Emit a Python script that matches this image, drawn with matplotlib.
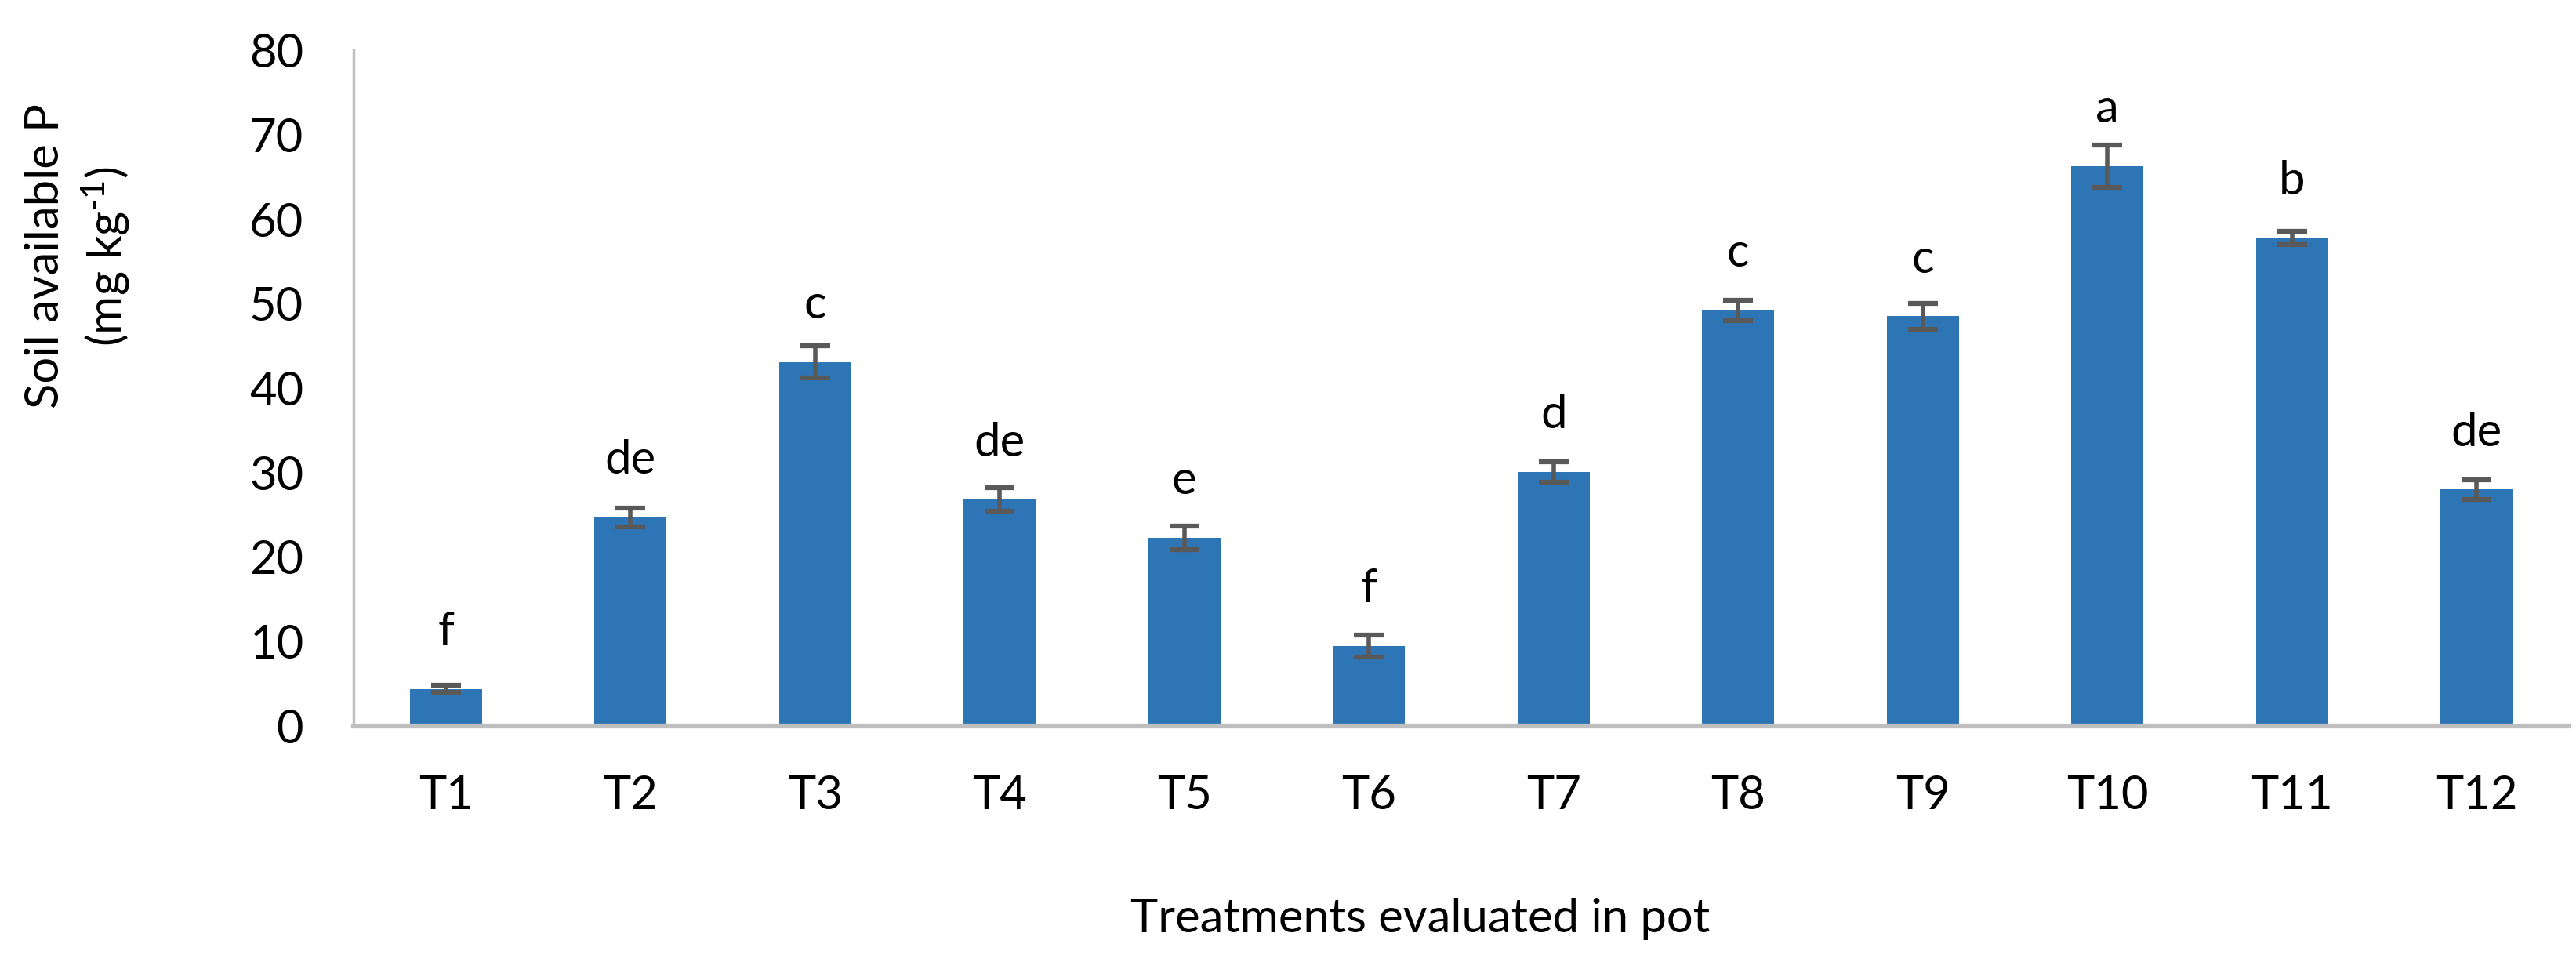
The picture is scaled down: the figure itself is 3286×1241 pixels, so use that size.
import matplotlib
matplotlib.use("Agg")
import matplotlib.pyplot as plt
import numpy as np

categories = ["T1", "T2", "T3", "T4", "T5", "T6", "T7", "T8", "T9", "T10", "T11", "T12"]
values = [4.4, 24.7, 43.1, 26.8, 22.3, 9.5, 30.1, 49.2, 48.5, 66.3, 57.8, 28.0]
errors = [0.4, 1.1, 1.9, 1.4, 1.4, 1.3, 1.2, 1.2, 1.5, 2.5, 0.8, 1.15]
letters = ["f", "de", "c", "de", "e", "f", "d", "c", "c", "a", "b", "de"]
yticks = [0, 10, 20, 30, 40, 50, 60, 70, 80]

plt.rcParams['font.family'] = ['Lato', 'DejaVu Sans']
plt.rcParams['mathtext.fontset'] = 'custom'
plt.rcParams['mathtext.rm'] = 'Lato'
plt.rcParams['mathtext.default'] = 'rm'

W, H, DPI = 3287, 1241, 100
fig = plt.figure(figsize=(W / DPI, H / DPI), dpi=DPI)
ax = fig.add_axes([451 / W, 1 - 926 / H, (3277 - 451) / W, (926 - 64) / H])

x = np.arange(len(categories))
ax.bar(x, values, width=0.39, color="#2E75B6", zorder=2)
ax.errorbar(x, values, yerr=errors, fmt="none", ecolor="#595959",
            elinewidth=4, capsize=13.5, capthick=4.5, zorder=3)

fs = 43
for xi, v, lab in zip(x, values, letters):
    ax.annotate(lab, (xi, v), xytext=(0, 40), textcoords="offset points",
                ha="center", va="baseline", fontsize=fs, color="black")

ax.set_xlim(-0.5, len(categories) - 0.5)
ax.set_ylim(0, 80)
ax.set_yticks(yticks)
ax.set_yticklabels([str(t) for t in yticks])
ax.set_xticks(x)
ax.set_xticklabels(categories)
ax.tick_params(axis="both", length=0, labelsize=fs)
ax.tick_params(axis="y", pad=46)
ax.tick_params(axis="x", pad=45)

for s in ["top", "right"]:
    ax.spines[s].set_visible(False)
ax.spines["left"].set_color("#BFBFBF")
ax.spines["left"].set_linewidth(2.5)
ax.spines["bottom"].set_color("#BFBFBF")
ax.spines["bottom"].set_linewidth(4.5)

fig.text(1812 / W, 1 - 1172 / H, "Treatments evaluated in pot", ha="center",
         va="center", fontsize=fs)
fig.text(100 / W, 1 - 327 / H, "Soil available P\n(mg kg$^{\\text{-1}}$)", rotation=90,
         ha="center", va="center", fontsize=fs, multialignment="center",
         linespacing=1.3)

fig.savefig("out.png", dpi=DPI)
